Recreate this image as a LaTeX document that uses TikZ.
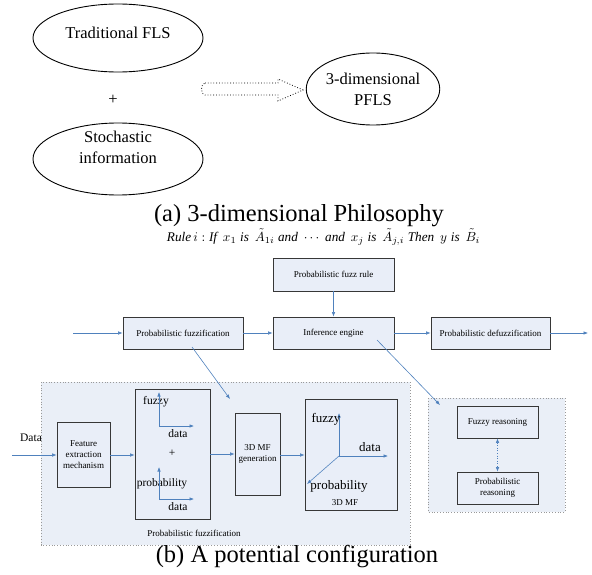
\documentclass[tikz,border=0pt]{standalone}
\usepackage{fontspec}
\usepackage{graphicx}
\setmainfont{Liberation Serif}
\usetikzlibrary{arrows.meta,shapes.geometric}
\definecolor{arrowblue}{RGB}{79,129,189}
\definecolor{boxfill}{RGB}{233,238,248}
\definecolor{regfill}{RGB}{234,239,247}
\definecolor{boxline}{RGB}{55,55,55}
\tikzset{
  ell/.style={draw=black, line width=0.9pt, ellipse, inner sep=0pt},
  bigtxt/.style={font=\fontsize{16.5}{21}\selectfont, align=center, inner sep=0pt},
  captxt/.style={font=\fontsize{24.5}{28}\selectfont, inner sep=0pt},
  blk/.style={draw=boxline, fill=boxfill, line width=0.8pt, rectangle, inner sep=0pt, font=\fontsize{9}{11}\selectfont, align=center},
  region/.style={draw=gray!80, fill=regfill, dotted, line width=0.8pt},
  arr/.style={draw=arrowblue, line width=0.6pt, -{Latex[length=4.5pt,width=3.5pt]}},
  axlbl/.style={font=\fontsize{11.5}{13}\selectfont, inner sep=0pt},
  axlblb/.style={font=\fontsize{13}{15}\selectfont, inner sep=0pt},
  smalltxt/.style={font=\fontsize{9}{11}\selectfont, inner sep=0pt}
}
\begin{document}
\begin{tikzpicture}[x=1pt,y=-1pt]
\useasboundingbox (0,0) rectangle (592,575);
% ---------- (a) ----------
\node[ell, minimum width=170, minimum height=68] (e1) at (118,38) {};
\node[bigtxt] (t1) at (118,33) {Traditional FLS};
\node[bigtxt] (plus) at (113,100) {+};
\node[ell, minimum width=170, minimum height=72] (e2) at (118,159) {};
\node[bigtxt] (t2) at (118,147) {Stochastic\\information};
\node[ell, minimum width=104, minimum height=72, bigtxt] (e3) at (373,89) {3-dimensional\\PFLS};
\draw[dotted, line width=0.8pt, black] (205,83) -- (278,83) -- (278,79) -- (303,90) -- (278,101) -- (278,95) -- (205,95) to[out=180,in=180] cycle;
\node[captxt] (capa) at (299,216) {(a) 3-dimensional Philosophy};
% ---------- rule ----------
\node[inner sep=0pt] (ruletxt) at (323.5,237) {\resizebox{313pt}{!}{$\mathit{Rule}\,i : \mathit{If}\;\, x_1 \;\mathit{is}\;\, \tilde{A}_{1i}\;\mathit{and}\;\cdots\;\mathit{and}\;\, x_j\;\mathit{is}\;\,\tilde{A}_{j,i}\;\mathit{Then}\;\, y\;\mathit{is}\;\,\tilde{B}_i$}};
% ---------- top chain ----------
\node[blk, minimum width=121, minimum height=33] (rule) at (333.5,274.5) {Probabilistic fuzz rule};
\node[blk, minimum width=120, minimum height=32] (pf) at (183,333) {Probabilistic fuzzification};
\node[blk, minimum width=121, minimum height=32] (ie) at (333.5,333) {Inference engine};
\node[blk, minimum width=119, minimum height=32] (pd) at (490.5,333) {Probabilistic defuzzification};
\coordinate (in) at (73,333);
\coordinate (out) at (588,333);
\draw[arr] (in) -- (pf.west);
\draw[arr] (pf.east) -- (ie.west);
\draw[arr] (ie.east) -- (pd.west);
\draw[arr] (pd.east) -- (out);
\draw[arr] (rule.south) -- (ie.north);
% ---------- regions ----------
\draw[region] (41,382) rectangle (410,545);
\draw[region] (428,398) rectangle (565,512);
\coordinate (d1s) at (192,347);
\coordinate (d1e) at (230,399);
\coordinate (d2s) at (377,340);
\coordinate (d2e) at (440,405);
\draw[arr] (d1s) -- (d1e);
\draw[arr] (d2s) -- (d2e);
% ---------- left region content ----------
\node[axlbl] (data) at (31,438) {Data};
\coordinate (datain) at (12,455);
\node[blk, minimum width=53, minimum height=65] (fe) at (83.5,454.5) {Feature\\extraction\\mechanism};
\node[blk, minimum width=75, minimum height=130] (big) at (172.5,454) {};
\node[blk, minimum width=45, minimum height=82] (gen) at (257.5,454) {3D MF\\generation};
\node[blk, minimum width=92, minimum height=111] (mf) at (351,454.5) {};
\draw[arr] (datain) -- (fe.west |- datain);
\draw[arr] (fe.east |- 0,455) -- (big.west |- 0,455);
\draw[arr] (big.east |- 0,454) -- (gen.west |- 0,454);
\draw[arr] (gen.east |- 0,455) -- (mf.west |- 0,455);
% axes in big box
\node[axlbl] (fz1) at (156,402) {fuzzy};
\node[axlbl] (da1) at (178,434) {data};
\node[axlbl] (pl2) at (172,453) {+};
\node[axlbl] (pr1) at (162,484) {probability};
\node[axlbl] (da2) at (178,507) {data};
\coordinate (o1) at (159,426);
\coordinate (o2) at (159,499);
\draw[arr] (o1) -- ++(0,-34);
\draw[arr] (o1) -- ++(35,0);
\draw[arr] (o2) -- ++(0,-32);
\draw[arr] (o2) -- ++(35,0);
% 3D axes
\coordinate (o3) at (339,456);
\draw[arr] (o3) -- (339,413);
\draw[arr] (o3) -- (388,456);
\draw[arr] (o3) -- (307,484);
\node[axlblb] (fz3) at (326,419) {fuzzy};
\node[axlblb] (da3) at (370,447) {data};
\node[axlblb] (pr3) at (339,486) {probability};
\node[smalltxt] (mflbl) at (345,503) {3D MF};
\node[smalltxt] (pflbl) at (194,533) {Probabilistic fuzzification};
% ---------- right region ----------
\node[blk, minimum width=81, minimum height=32] (fr) at (497.5,422) {Fuzzy reasoning};
\node[blk, minimum width=81, minimum height=32] (pr) at (497.5,488) {Probabilistic\\reasoning};
\draw[arr, dotted, {Latex[length=4.5pt,width=3.5pt]}-{Latex[length=4.5pt,width=3.5pt]}] (fr.south) -- (pr.north);
% ---------- caption b ----------
\node[captxt] (capb) at (297,557) {(b) A potential configuration};
\end{tikzpicture}
\end{document}
